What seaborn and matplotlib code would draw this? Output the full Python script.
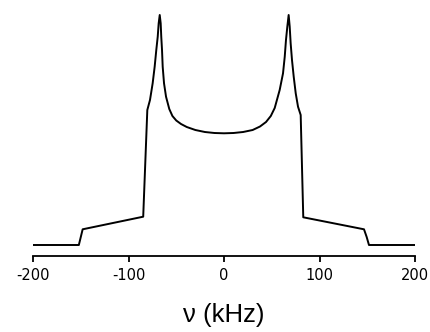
import matplotlib
matplotlib.use("Agg")
import matplotlib.pyplot as plt
import seaborn as sns
import pandas as pd

# frequency (kHz) and intensity (arbitrary units)
freq_khz = [-200.0, -152.0, -148.0, -84.6, -80.3, -77.5, -74.7, -72.6, -70.9, -69.4,
            -68.4, -67.3, -66.3, -65.7, -64.9, -64.2, -62.8, -60.7, -57.3, -54.0,
            -50.0, -45.0, -39.0, -30.0, -20.0, -10.0, 0.0,
            10.0, 20.0, 30.0, 37.7, 44.0, 49.0, 53.1, 58.3, 61.8, 63.6, 64.9, 66.3, 67.7,
            68.8, 69.8, 71.2, 73.0, 75.1, 77.5, 80.3, 83.0, 146.6, 149.4, 151.8, 200.0]
intensity = [0.0, 0.0, 15.7, 28.3, 135.0, 145.0, 161.7, 178.3, 195.0, 208.3,
             221.7, 230.0, 221.7, 208.3, 195.0, 178.3, 161.7, 148.3, 136.0, 129.0,
             124.5, 121.0, 118.0, 115.0, 113.0, 112.0, 111.7,
             112.0, 113.0, 115.0, 118.5, 123.0, 129.0, 137.0, 155.0, 171.7, 188.3, 205.0, 218.3, 230.0,
             218.3, 201.7, 185.0, 168.3, 151.7, 138.3, 130.0, 27.7, 15.7, 8.0, 0.0, 0.0]
xticks = [-200, -100, 0, 100, 200]
xlabel = "ν (kHz)"

df = pd.DataFrame({"freq": freq_khz, "intensity": intensity})

sns.set_theme(style="ticks")
plt.rcParams["font.family"] = ["Liberation Sans", "DejaVu Sans"]

fig = plt.figure(figsize=(4.30, 3.32), dpi=100)
ax = fig.add_axes([33 / 430, 1 - 256 / 332, (415 - 33) / 430, (256 - 10) / 332])

sns.lineplot(data=df, x="freq", y="intensity", ax=ax, color="black",
             linewidth=1.4, sort=False, estimator=None)

ax.set_xlim(-200, 200)
ax.set_ylim(-11, 235)
ax.set_xticks(xticks)
ax.set_xticklabels([str(t) for t in xticks], fontsize=10.5, family="DejaVu Sans",
                   color="black")
ax.set_yticks([])
ax.set_ylabel("")
ax.set_xlabel(xlabel, fontsize=18.5, labelpad=14, color="black")
for s in ["left", "right", "top"]:
    ax.spines[s].set_visible(False)
ax.spines["bottom"].set_linewidth(1.3)
ax.spines["bottom"].set_color("black")
ax.tick_params(axis="x", direction="out", length=4.5, width=1.3, color="black",
               labelcolor="black", pad=4.5)
ax.set_facecolor("white")
fig.patch.set_facecolor("white")

fig.savefig("out.png", dpi=100)
